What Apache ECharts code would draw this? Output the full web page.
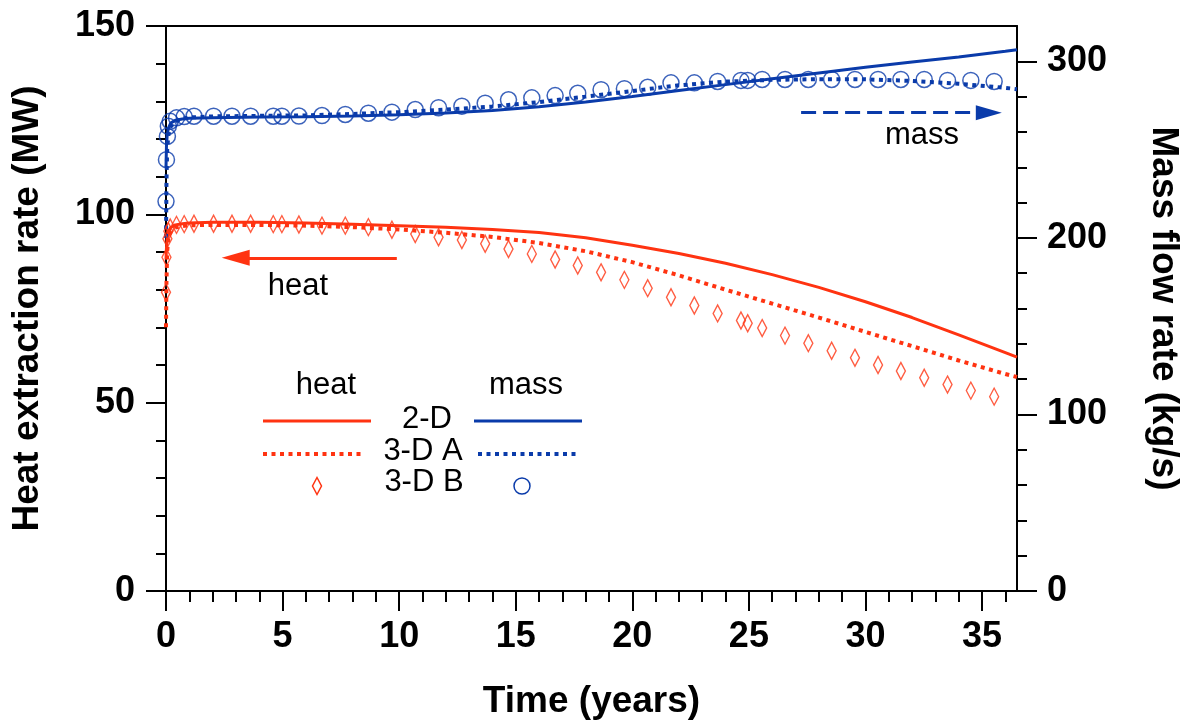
<!DOCTYPE html>
<html>
<head>
<meta charset="utf-8">
<script src="https://cdn.jsdelivr.net/npm/echarts@6/dist/echarts.min.js"></script>
<style>
html,body{margin:0;padding:0;background:#fff;}
#chart{width:1188px;height:727px;}
</style>
</head>
<body>
<div id="chart"></div>
<script>
// ---------- data ----------
const lineTimes = [0, 0.02, 0.05, 0.1, 0.2, 0.4, 0.7, 1, 2, 4, 6, 8, 10, 12, 14, 16, 18, 20, 22, 24, 26, 28, 30, 32, 34, 36, 36.5];
const heat2D  = [88, 91, 93.5, 95.3, 96.5, 97.2, 97.5, 97.7, 97.9, 97.9, 97.7, 97.4, 97.0, 96.6, 96.0, 95.2, 93.8, 91.8, 89.6, 87.0, 84.0, 80.6, 76.8, 72.6, 68.0, 63.3, 62.1];
const heat3DA = [70, 82, 90, 93.8, 95.6, 96.5, 96.9, 97.1, 97.2, 97.2, 97.0, 96.6, 96.0, 95.1, 94.0, 92.4, 90.2, 87.3, 83.8, 80.0, 76.3, 72.6, 68.8, 65.0, 61.2, 57.6, 56.8];
const mass2D  = [240, 252, 258, 262, 265, 266.6, 267.3, 267.7, 268.1, 268.4, 268.6, 269.0, 269.7, 270.7, 272.1, 274.2, 276.9, 280.1, 283.5, 286.8, 290.1, 293.4, 296.6, 299.6, 302.5, 305.7, 306.6];
const mass3DA = [200, 232, 250, 258, 263, 266, 267.5, 268.2, 268.8, 269.1, 269.4, 270.2, 271.2, 272.6, 274.4, 276.9, 280.0, 283.2, 286.4, 288.5, 289.5, 289.9, 289.8, 288.9, 287.3, 285.0, 284.2];

const markerTimes = [0, 0.02, 0.06, 0.1, 0.18, 0.45, 0.78, 1.2, 2.04, 2.83, 3.63, 4.6, 4.97, 5.7,
  6.69, 7.69, 8.68, 9.69, 10.69, 11.69, 12.69, 13.69, 14.69, 15.69, 16.69, 17.66, 18.66, 19.66, 20.66,
  21.66, 22.66, 23.66, 24.66, 24.95, 25.57, 26.55, 27.55, 28.55, 29.55, 30.54, 31.52, 32.52, 33.52, 34.52, 35.52];
const heat3DB = [79.3, 88.6, 93.5, 95.5, 96.5, 97.2, 97.4, 97.5, 97.5, 97.5, 97.5, 97.4, 97.4, 97.3,
  97.0, 97.0, 96.6, 95.9, 94.8, 93.9, 93.2, 92.2, 90.8, 89.5, 88.0, 86.4, 84.6, 82.6, 80.4,
  78.0, 75.8, 73.7, 71.8, 71.1, 69.8, 67.8, 65.8, 63.8, 61.9, 60.0, 58.4, 56.6, 54.8, 53.2, 51.6];
const mass3DB = [220.7, 244.3, 257.5, 263.2, 266, 268, 268.7, 268.9, 268.9, 268.9, 268.9, 268.9, 268.9, 269.0,
  269.3, 269.9, 270.6, 271.2, 272.7, 273.7, 274.6, 276.3, 278.2, 279.3, 280.6, 281.9, 283.9, 284.5, 285.3,
  287.8, 287.8, 288.6, 289.2, 289.2, 289.7, 289.7, 289.7, 289.7, 289.7, 289.7, 289.7, 289.7, 289.2, 289.2, 288.6];

const xMajorTicks = [0, 5, 10, 15, 20, 25, 30, 35];
const xMinorTicks = [1, 2, 3, 4, 6, 7, 8, 9, 11, 12, 13, 14, 16, 17, 18, 19, 21, 22, 23, 24, 26, 27, 28, 29, 31, 32, 33, 34, 36];
const rMajorTicks = [0, 100, 200, 300];
const rMinorTicks = [20, 40, 60, 80, 120, 140, 160, 180, 220, 240, 260, 280];

// annotation arrows (time, value)
const heatArrow = [[9.9, 88.45], [2.99, 88.45]];
const massArrow = [[27.24, 270.9], [35.29, 270.9]];

// ---------- styles ----------
const RED = '#FF3311';
const BLUE = '#0A3BAA';
const FONT = '"Liberation Sans", Arial, Helvetica, sans-serif';
const pair = (t, v) => t.map((x, i) => [x, v[i]]);
const axisLineStyle = {color: '#000', width: 2};
const boldLabel = {fontSize: 36, fontWeight: 'bold', color: '#000', fontFamily: FONT};
const boldName = {fontSize: 37, fontWeight: 'bold', color: '#000', fontFamily: FONT};

const chart = echarts.init(document.getElementById('chart'), null, {renderer: 'canvas'});

const option = {
  animation: false,
  backgroundColor: '#fff',
  grid: {left: 166, right: 171, top: 26, bottom: 136, containLabel: false, outerBoundsMode: 'none'},
  xAxis: [
    {type: 'value', position: 'bottom', min: 0, max: 36.5,
     axisLine: {show: true, onZero: false, lineStyle: axisLineStyle},
     axisTick: {show: true, length: 20, customValues: xMajorTicks, lineStyle: axisLineStyle},
     axisLabel: Object.assign({customValues: xMajorTicks, margin: 28}, boldLabel),
     splitLine: {show: false},
     name: 'Time (years)', nameLocation: 'middle', nameGap: 92,
     nameTextStyle: boldName},
    {type: 'value', position: 'bottom', min: 0, max: 36.5,
     axisLine: {show: false, onZero: false},
     axisTick: {show: true, length: 11, customValues: xMinorTicks, lineStyle: axisLineStyle},
     axisLabel: {show: false}, splitLine: {show: false}},
    {type: 'value', position: 'top', min: 0, max: 36.5,
     axisLine: {show: true, onZero: false, lineStyle: axisLineStyle},
     axisTick: {show: false}, axisLabel: {show: false}, splitLine: {show: false}}
  ],
  yAxis: [
    {type: 'value', position: 'left', min: 0, max: 150, interval: 50,
     axisLine: {show: true, onZero: false, lineStyle: axisLineStyle},
     axisTick: {show: true, length: 20, lineStyle: axisLineStyle},
     minorTick: {show: true, splitNumber: 5, length: 10, lineStyle: axisLineStyle},
     axisLabel: Object.assign({margin: 31}, boldLabel),
     splitLine: {show: false}, minorSplitLine: {show: false},
     name: 'Heat extraction rate (MW)', nameLocation: 'middle', nameGap: 120, nameRotate: 90,
     nameTextStyle: boldName},
    {type: 'value', position: 'right', min: 0, max: 320,
     axisLine: {show: true, onZero: false, lineStyle: axisLineStyle},
     axisTick: {show: true, length: 20, customValues: rMajorTicks, lineStyle: axisLineStyle},
     axisLabel: Object.assign({customValues: rMajorTicks, margin: 30}, boldLabel),
     splitLine: {show: false},
     name: 'Mass flow rate (kg/s)', nameLocation: 'middle', nameGap: 128, nameRotate: -90,
     nameTextStyle: boldName},
    {type: 'value', position: 'right', min: 0, max: 320,
     axisLine: {show: false, onZero: false},
     axisTick: {show: true, length: 10, customValues: rMinorTicks, lineStyle: axisLineStyle},
     axisLabel: {show: false}, splitLine: {show: false}}
  ],
  series: [
    {name: 'heat 2-D', type: 'line', xAxisIndex: 0, yAxisIndex: 0, data: pair(lineTimes, heat2D),
     showSymbol: false, lineStyle: {color: RED, width: 3}, itemStyle: {color: RED}, z: 3,
     markLine: {silent: true, symbol: ['none', 'triangle'], symbolSize: [16, 28],
       label: {show: false}, lineStyle: {color: RED, width: 3, type: 'solid'}, itemStyle: {color: RED},
       data: [[{coord: heatArrow[0]}, {coord: heatArrow[1]}]]}},
    {name: 'heat 3-D A', type: 'line', xAxisIndex: 0, yAxisIndex: 0, data: pair(lineTimes, heat3DA),
     showSymbol: false, lineStyle: {color: RED, width: 4, type: [4, 4.5], cap: 'butt'}, itemStyle: {color: RED}, z: 3},
    {name: 'mass 2-D', type: 'line', xAxisIndex: 0, yAxisIndex: 1, data: pair(lineTimes, mass2D),
     showSymbol: false, lineStyle: {color: BLUE, width: 3}, itemStyle: {color: BLUE}, z: 3,
     markLine: {silent: true, symbol: ['none', 'triangle'], symbolSize: [15, 26],
       label: {show: false}, lineStyle: {color: BLUE, width: 3, type: [15, 7]}, itemStyle: {color: BLUE},
       data: [[{coord: massArrow[0]}, {coord: massArrow[1]}]]}},
    {name: 'mass 3-D A', type: 'line', xAxisIndex: 0, yAxisIndex: 1, data: pair(lineTimes, mass3DA),
     showSymbol: false, lineStyle: {color: BLUE, width: 4, type: [4, 4.5], cap: 'butt'}, itemStyle: {color: BLUE}, z: 3},
    {name: 'heat 3-D B', type: 'scatter', xAxisIndex: 0, yAxisIndex: 0, data: pair(markerTimes, heat3DB),
     symbol: 'diamond', symbolSize: [9, 17],
     itemStyle: {color: 'rgba(255,255,255,0)', borderColor: RED, borderWidth: 1.5}, z: 4},
    {name: 'mass 3-D B', type: 'scatter', xAxisIndex: 0, yAxisIndex: 1, data: pair(markerTimes, mass3DB),
     symbol: 'circle', symbolSize: 16,
     itemStyle: {color: 'rgba(255,255,255,0)', borderColor: BLUE, borderWidth: 1.5}, z: 4}
  ],
  graphic: [
    // annotations
    {type: 'text', x: 298, y: 286, style: {text: 'heat', font: '31px ' + FONT, fill: '#000', align: 'center', verticalAlign: 'middle'}},
    {type: 'text', x: 922, y: 135, style: {text: 'mass', font: '31px ' + FONT, fill: '#000', align: 'center', verticalAlign: 'middle'}},
    // legend
    {type: 'text', x: 326, y: 385, style: {text: 'heat', font: '31px ' + FONT, fill: '#000', align: 'center', verticalAlign: 'middle'}},
    {type: 'text', x: 526, y: 385, style: {text: 'mass', font: '31px ' + FONT, fill: '#000', align: 'center', verticalAlign: 'middle'}},
    {type: 'text', x: 427, y: 419, style: {text: '2-D', font: '31px ' + FONT, fill: '#000', align: 'center', verticalAlign: 'middle'}},
    {type: 'text', x: 423, y: 451, style: {text: '3-D A', font: '31px ' + FONT, fill: '#000', align: 'center', verticalAlign: 'middle'}},
    {type: 'text', x: 424, y: 482, style: {text: '3-D B', font: '31px ' + FONT, fill: '#000', align: 'center', verticalAlign: 'middle'}},
    {type: 'line', shape: {x1: 263, y1: 421, x2: 371, y2: 421}, style: {stroke: RED, lineWidth: 3}},
    {type: 'line', shape: {x1: 474, y1: 421, x2: 582, y2: 421}, style: {stroke: BLUE, lineWidth: 3}},
    {type: 'line', shape: {x1: 263, y1: 454, x2: 365, y2: 454}, style: {stroke: RED, lineWidth: 4, lineDash: [4, 4.5]}},
    {type: 'line', shape: {x1: 478, y1: 454, x2: 580, y2: 454}, style: {stroke: BLUE, lineWidth: 4, lineDash: [4, 4.5]}},
    {type: 'polygon', shape: {points: [[317, 477.5], [321.5, 486], [317, 494.5], [312.5, 486]]}, style: {fill: 'none', stroke: RED, lineWidth: 1.5}},
    {type: 'circle', shape: {cx: 522, cy: 486, r: 8}, style: {fill: 'none', stroke: BLUE, lineWidth: 1.5}}
  ]
};
chart.setOption(option);
</script>
</body>
</html>
